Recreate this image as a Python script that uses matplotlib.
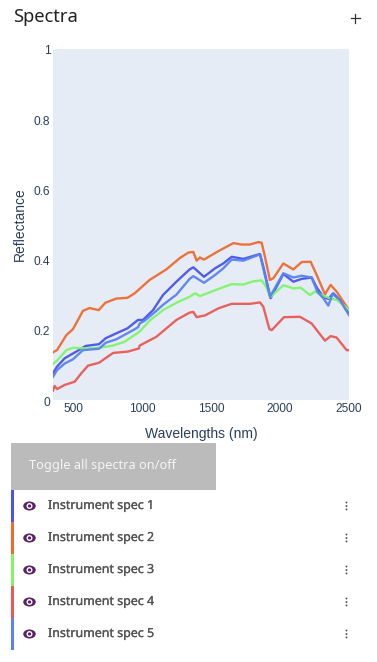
import matplotlib
matplotlib.use("Agg")
from matplotlib import pyplot as plt
from matplotlib import patheffects
from matplotlib.patches import Ellipse, Rectangle
from matplotlib.transforms import ScaledTranslation

W, H = 377, 662

names = ["Instrument spec 1", "Instrument spec 2", "Instrument spec 3", "Instrument spec 4", "Instrument spec 5"]
colors = ["#4a54ea", "#ee6c2f", "#80f56a", "#ea5a55", "#5a82f2"]

wl1 = [355, 384, 440, 524, 592, 688, 737, 814, 894, 971, 1007, 1080, 1152, 1249, 1345, 1372, 1449, 1529, 1589, 1650, 1734, 1855, 1879, 1932, 2024, 2097, 2157, 2229, 2270, 2314, 2350, 2386, 2434, 2500]
spec1 = [0.076, 0.095, 0.119, 0.138, 0.154, 0.159, 0.176, 0.19, 0.204, 0.228, 0.228, 0.256, 0.299, 0.337, 0.372, 0.378, 0.351, 0.375, 0.389, 0.408, 0.402, 0.416, 0.38, 0.29, 0.359, 0.337, 0.345, 0.349, 0.318, 0.294, 0.288, 0.304, 0.285, 0.245]

wl2 = [355, 384, 452, 500, 572, 620, 686, 734, 814, 894, 947, 1055, 1176, 1273, 1336, 1372, 1396, 1420, 1449, 1553, 1662, 1722, 1783, 1843, 1867, 1891, 1927, 1952, 2024, 2097, 2157, 2222, 2266, 2326, 2367, 2410, 2500]
spec2 = [0.136, 0.142, 0.185, 0.202, 0.254, 0.262, 0.256, 0.277, 0.289, 0.291, 0.304, 0.342, 0.372, 0.404, 0.42, 0.422, 0.397, 0.406, 0.40, 0.424, 0.447, 0.443, 0.443, 0.45, 0.448, 0.408, 0.342, 0.347, 0.389, 0.372, 0.393, 0.394, 0.356, 0.301, 0.328, 0.309, 0.256]

wl3 = [355, 384, 452, 500, 597, 693, 790, 874, 983, 1055, 1152, 1249, 1345, 1384, 1420, 1565, 1650, 1734, 1807, 1867, 1898, 1932, 2024, 2097, 2150, 2217, 2253, 2302, 2362, 2410, 2500]
spec3 = [0.103, 0.112, 0.142, 0.149, 0.147, 0.149, 0.155, 0.166, 0.195, 0.226, 0.256, 0.277, 0.294, 0.304, 0.296, 0.318, 0.33, 0.329, 0.338, 0.341, 0.323, 0.294, 0.327, 0.318, 0.32, 0.299, 0.309, 0.299, 0.29, 0.285, 0.258]

wl4 = [355, 367, 384, 440, 512, 560, 609, 688, 790, 898, 978, 983, 1104, 1249, 1345, 1372, 1396, 1457, 1553, 1650, 1783, 1855, 1879, 1923, 1940, 2029, 2145, 2229, 2326, 2367, 2410, 2483, 2500]
spec4 = [0.027, 0.04, 0.031, 0.043, 0.052, 0.076, 0.098, 0.106, 0.134, 0.138, 0.147, 0.155, 0.18, 0.228, 0.249, 0.251, 0.236, 0.241, 0.261, 0.274, 0.274, 0.278, 0.266, 0.202, 0.199, 0.236, 0.237, 0.218, 0.169, 0.182, 0.178, 0.142, 0.142]

wl5 = [355, 384, 440, 500, 572, 688, 737, 814, 894, 971, 983, 1019, 1104, 1152, 1249, 1345, 1372, 1449, 1529, 1589, 1650, 1734, 1855, 1879, 1927, 2024, 2097, 2157, 2229, 2270, 2314, 2350, 2381, 2434, 2500]
spec5 = [0.066, 0.085, 0.104, 0.116, 0.142, 0.146, 0.163, 0.173, 0.19, 0.207, 0.218, 0.226, 0.254, 0.271, 0.30, 0.345, 0.353, 0.334, 0.356, 0.375, 0.40, 0.397, 0.415, 0.375, 0.294, 0.361, 0.349, 0.354, 0.349, 0.309, 0.29, 0.269, 0.302, 0.285, 0.242]

wavelengths = [wl1, wl2, wl3, wl4, wl5]
spectra = [spec1, spec2, spec3, spec4, spec5]
x_ticks = [500, 1000, 1500, 2000, 2500]
y_ticks = [0, 0.2, 0.4, 0.6, 0.8, 1]
y_tick_labels = ["0", "0.2", "0.4", "0.6", "0.8", "1"]

plt.rcParams["font.family"] = ["Liberation Sans", "DejaVu Sans"]
ink = "#2a3f5f"

fig = plt.figure(figsize=(W / 100, H / 100), dpi=100, facecolor="white")

# page furniture, in pixels from the top left
ui = fig.add_axes([0, 0, 1, 1])
ui.set_xlim(0, W)
ui.set_ylim(H, 0)
ui.axis("off")
ui.text(13, 17.5, "Spectra", fontsize=13.2, color="#222222", va="center", family="Noto Sans")
ui.plot([350.5, 359.5], [18, 18], color="#333333", lw=0.9)
ui.plot([355, 355], [13.5, 22.5], color="#333333", lw=0.9)
ui.add_patch(Rectangle((11, 443), 205, 47, color="#bbbbbb", lw=0))
ui.text(29, 465, "Toggle all spectra on/off", fontsize=9.2, color="#f5f5f5", va="center", family="Noto Sans")
thicker = [patheffects.withStroke(linewidth=0.2, foreground="#555555")]
for i, name in enumerate(names):
    top = 490 + i * 32
    ui.add_patch(Rectangle((11, top), 3, 32, color=colors[i], lw=0))
    cy = top + 16
    ui.add_patch(Ellipse((29.5, cy), 12.5, 9, color="#5b2066", lw=0))
    ui.add_patch(Ellipse((29.5, cy), 6, 6, color="white", lw=0))
    ui.add_patch(Ellipse((29.5, cy), 3.2, 3.2, color="#5b2066", lw=0))
    ui.text(48, cy - 0.5, name, fontsize=8.95, color="#555555", va="center", family="Noto Sans", path_effects=thicker)
    for dy in (-3.5, 0, 3.5):
        ui.add_patch(Ellipse((346.5, cy + dy), 1.8, 1.8, color="#444444", lw=0))

# the chart itself
ax = fig.add_axes([53 / W, 1 - 400 / H, 296 / W, 351 / H], facecolor="#e5ecf6")
for x, y, c in zip(wavelengths, spectra, colors):
    ax.plot(x, y, color=c, lw=1.7, alpha=0.95, solid_joinstyle="round")
ax.set_xlim(355, 2500)
ax.set_ylim(0, 1)
ax.set_xticks(x_ticks)
ax.set_yticks(y_ticks)
ax.set_yticklabels(y_tick_labels)
ax.tick_params(length=0, labelsize=8.6, labelcolor=ink, pad=2)
# y labels sit a pixel lower in the original
shift = ScaledTranslation(0, -1 / 100, fig.dpi_scale_trans)
for lab in ax.get_yticklabels():
    lab.set_transform(lab.get_transform() + shift)
for s in ax.spines.values():
    s.set_visible(False)
ax.set_xlabel("Wavelengths (nm)", fontsize=10, color=ink, labelpad=9)
ax.set_ylabel("Reflectance", fontsize=10, color=ink, labelpad=5)

fig.savefig("out.png", dpi=100)
